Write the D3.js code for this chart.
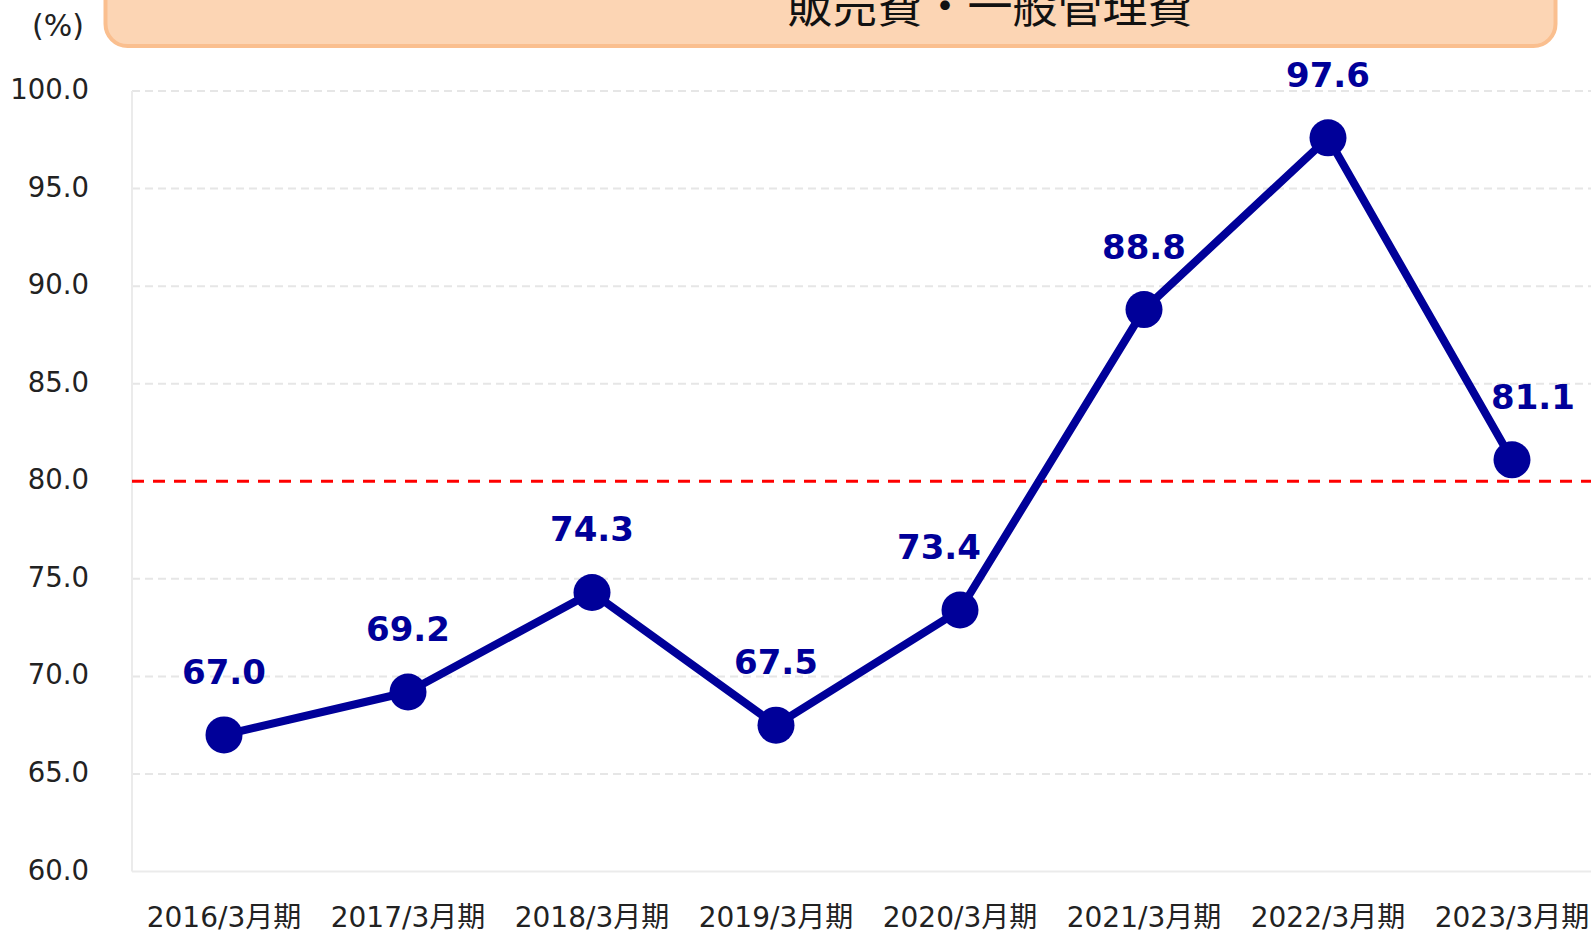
<!DOCTYPE html>
<html lang="ja">
<head>
<meta charset="utf-8">
<title>販売費・一般管理費</title>
<script src="https://cdn.jsdelivr.net/npm/d3@7"></script>
<style>
  body { margin: 0; background: #fff; }
  svg { display: block; font-family: "DejaVu Sans", "Noto Sans CJK JP", sans-serif; }
</style>
</head>
<body>
<div id="chart"></div>
<script>
// data
var periods = ["2016/3月期", "2017/3月期", "2018/3月期", "2019/3月期",
               "2020/3月期", "2021/3月期", "2022/3月期", "2023/3月期"];
var ratios = [67.0, 69.2, 74.3, 67.5, 73.4, 88.8, 97.6, 81.1];
var yTicks = [60, 65, 70, 75, 80, 85, 90, 95, 100];
var refLine = 80;
var title = "販売費・一般管理費";
var unitLabel = "(%)";

var width = 1591, height = 930;
var plot = {left: 132, right: 1604, top: 91, bottom: 871.5};
var blue = "#000099";

var svg = d3.select("#chart").append("svg")
  .attr("width", width)
  .attr("height", height);

var x = d3.scaleBand()
  .domain(periods)
  .range([plot.left, plot.right]);

var y = d3.scaleLinear()
  .domain([60, 100])
  .range([plot.bottom, plot.top]);

var fmt = d3.format(".1f");

// title banner (top part cut off by the frame)
svg.append("rect")
  .attr("x", 105.5).attr("y", -40)
  .attr("width", 1450).attr("height", 86)
  .attr("rx", 22).attr("ry", 22)
  .attr("fill", "#fcd5b4")
  .attr("stroke", "#fabf8f")
  .attr("stroke-width", 4);

svg.append("text")
  .attr("x", 990).attr("y", 23)
  .attr("text-anchor", "middle")
  .style("font-family", "'Noto Sans CJK JP', sans-serif")
  .style("font-size", "45px")
  .attr("fill", "#111")
  .text(title);

svg.append("text")
  .attr("x", 58).attr("y", 36)
  .attr("text-anchor", "middle")
  .style("font-size", "30px")
  .attr("fill", "#222")
  .text(unitLabel);

// grid
svg.selectAll(".grid")
  .data(yTicks.filter(function(d){ return d > 60 && d !== refLine; }))
  .enter().append("line")
  .attr("class", "grid")
  .attr("x1", plot.left).attr("x2", plot.right)
  .attr("y1", function(d){ return y(d); })
  .attr("y2", function(d){ return y(d); })
  .attr("stroke", "#e6e6e6")
  .attr("stroke-width", 2)
  .attr("stroke-dasharray", "8,5");

svg.append("line")
  .attr("x1", plot.left).attr("x2", plot.right)
  .attr("y1", y(60)).attr("y2", y(60))
  .attr("stroke", "#ebebeb").attr("stroke-width", 2);

svg.append("line")
  .attr("x1", plot.left).attr("x2", plot.left)
  .attr("y1", y(100)).attr("y2", y(60))
  .attr("stroke", "#ebebeb").attr("stroke-width", 2);

// y axis labels
svg.selectAll(".ylab")
  .data(yTicks)
  .enter().append("text")
  .attr("class", "ylab")
  .attr("x", 89)
  .attr("y", function(d){ return y(d) + 8; })
  .attr("text-anchor", "end")
  .style("font-size", "27.5px")
  .attr("fill", "#222")
  .text(function(d){ return fmt(d); });

// x axis labels
svg.selectAll(".xlab")
  .data(periods)
  .enter().append("text")
  .attr("class", "xlab")
  .attr("x", function(d){ return x(d) + x.bandwidth() / 2; })
  .attr("y", 927)
  .attr("text-anchor", "middle")
  .style("font-size", "28px")
  .attr("fill", "#222")
  .text(function(d){ return d; });

// 80% reference
svg.append("line")
  .attr("x1", plot.left).attr("x2", plot.right)
  .attr("y1", y(refLine)).attr("y2", y(refLine))
  .attr("stroke", "#ff0000")
  .attr("stroke-width", 3)
  .attr("stroke-dasharray", "12,9");

var pts = periods.map(function(p, i){ return {p: p, v: ratios[i]}; });

var line = d3.line()
  .x(function(d){ return x(d.p) + x.bandwidth() / 2; })
  .y(function(d){ return y(d.v); });

svg.append("path")
  .datum(pts)
  .attr("d", line)
  .attr("fill", "none")
  .attr("stroke", blue)
  .attr("stroke-width", 8)
  .attr("stroke-linejoin", "round");

svg.selectAll(".dot")
  .data(pts)
  .enter().append("circle")
  .attr("class", "dot")
  .attr("cx", function(d){ return x(d.p) + x.bandwidth() / 2; })
  .attr("cy", function(d){ return y(d.v); })
  .attr("r", 18.5)
  .attr("fill", blue);

// labels nudged sideways where the line runs steeply under them
var nudge = [0, 0, 0, 0, -21, 0, 0, 21];

svg.selectAll(".val")
  .data(pts)
  .enter().append("text")
  .attr("class", "val")
  .attr("x", function(d, i){ return x(d.p) + x.bandwidth() / 2 + nudge[i]; })
  .attr("y", function(d){ return y(d.v) - 51; })
  .attr("text-anchor", "middle")
  .style("font-size", "34px")
  .style("font-weight", "bold")
  .attr("fill", blue)
  .text(function(d){ return fmt(d.v); });
</script>
</body>
</html>
